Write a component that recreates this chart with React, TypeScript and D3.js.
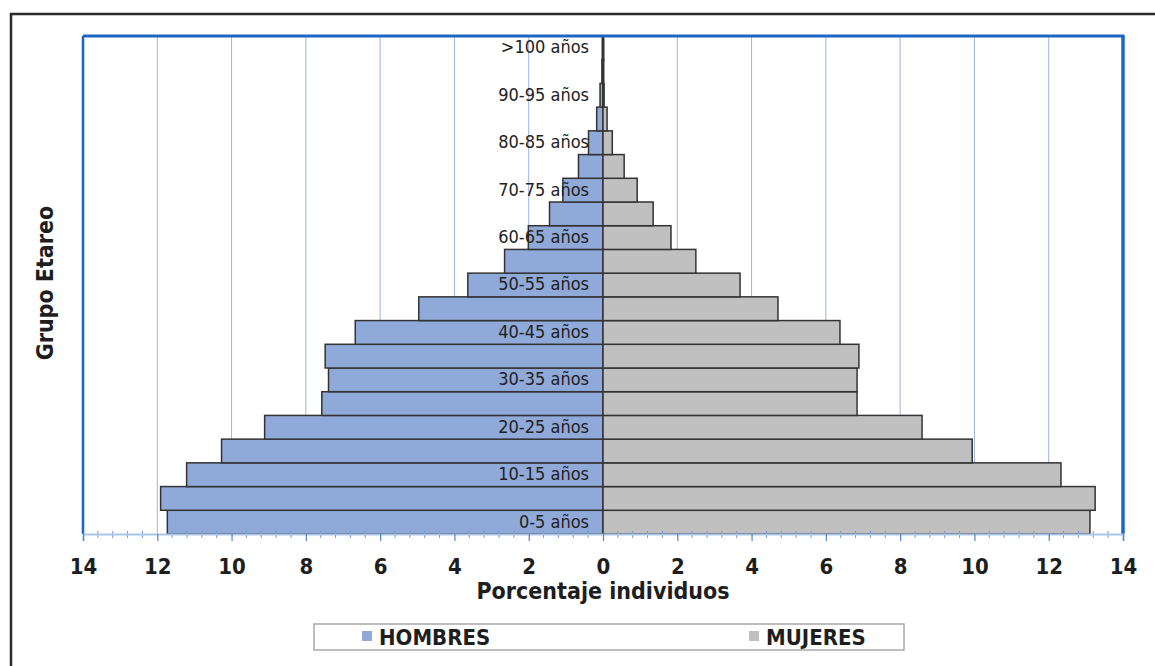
import React, { useEffect, useRef } from 'react';
import * as d3 from 'd3';

// Grupos etareos (de abajo hacia arriba)
const grupos = [
  '0-5 años', '5-10 años', '10-15 años', '15-20 años', '20-25 años', '25-30 años',
  '30-35 años', '35-40 años', '40-45 años', '45-50 años', '50-55 años', '55-60 años',
  '60-65 años', '65-70 años', '70-75 años', '75-80 años', '80-85 años', '85-90 años',
  '90-95 años', '95-100 años', '>100 años',
];

// Porcentaje de hombres por grupo
const hombres = [
  11.73, 11.91, 11.21, 10.27, 9.11, 7.57, 7.39, 7.48, 6.67, 4.96, 3.64,
  2.65, 2.01, 1.44, 1.08, 0.66, 0.39, 0.17, 0.08, 0.03, 0.02,
];

// Porcentaje de mujeres por grupo
const mujeres = [
  13.11, 13.25, 12.33, 9.94, 8.59, 6.84, 6.84, 6.89, 6.38, 4.71, 3.69,
  2.5, 1.83, 1.35, 0.92, 0.57, 0.25, 0.11, 0.03, 0.02, 0.02,
];

// Marcas del eje x
const ticksX = [-14, -12, -10, -8, -6, -4, -2, 0, 2, 4, 6, 8, 10, 12, 14];

const series = [
  { nombre: 'HOMBRES', color: '#8FA9D8' },
  { nombre: 'MUJERES', color: '#C0C0C0' },
];

const FONT = "'DejaVu Sans Condensed', 'DejaVu Sans', sans-serif";

const Piramide: React.FC = () => {
  const ref = useRef<SVGSVGElement>(null);

  useEffect(() => {
    const width = 1155;
    const height = 666;
    const left = 83;
    const right = 1123;
    const top = 36;
    const bottom = 534;

    const svg = d3.select(ref.current).attr('width', width).attr('height', height);
    svg.selectAll('*').remove();

    svg.append('rect').attr('width', width).attr('height', height).attr('fill', '#fff');

    // Marco exterior
    svg.append('rect')
      .attr('x', 11).attr('y', 14).attr('width', 1300).attr('height', 800)
      .attr('fill', 'none').attr('stroke', '#2b2b2b').attr('stroke-width', 2.5);

    const x = d3.scaleLinear().domain([-14, 14]).range([left, right]);
    const y = d3.scaleBand().domain(grupos).range([bottom, top]).paddingInner(0).paddingOuter(0);

    // Lineas de grilla
    svg.append('g')
      .selectAll('line')
      .data(ticksX.filter((t) => Math.abs(t) !== 14 && t !== 0))
      .enter()
      .append('line')
      .attr('x1', (d) => x(d)).attr('x2', (d) => x(d))
      .attr('y1', top).attr('y2', bottom)
      .attr('stroke', '#9DB4E2').attr('stroke-width', 1);

    // Barras hombres
    svg.append('g')
      .selectAll('rect')
      .data(grupos)
      .enter()
      .append('rect')
      .attr('x', (d, i) => x(-hombres[i]))
      .attr('y', (d) => y(d) || 0)
      .attr('width', (d, i) => x(0) - x(-hombres[i]))
      .attr('height', y.bandwidth())
      .attr('fill', series[0].color)
      .attr('stroke', '#333').attr('stroke-width', 1.5);

    // Barras mujeres
    svg.append('g')
      .selectAll('rect')
      .data(grupos)
      .enter()
      .append('rect')
      .attr('x', x(0))
      .attr('y', (d) => y(d) || 0)
      .attr('width', (d, i) => x(mujeres[i]) - x(0))
      .attr('height', y.bandwidth())
      .attr('fill', series[1].color)
      .attr('stroke', '#333').attr('stroke-width', 1.5);

    // Etiquetas de grupos (uno si, uno no)
    svg.append('g')
      .selectAll('text')
      .data(grupos.filter((d, i) => i % 2 === 0))
      .enter()
      .append('text')
      .attr('x', x(0) - 14)
      .attr('y', (d) => (y(d) || 0) + y.bandwidth() / 2)
      .attr('dy', '0.3em')
      .attr('text-anchor', 'end')
      .style('font-family', FONT)
      .style('font-size', '18px')
      .attr('fill', '#222')
      .text((d) => d);

    // Bordes del area de grafico
    svg.append('line').attr('x1', left).attr('x2', right + 1.5).attr('y1', top).attr('y2', top)
      .attr('stroke', '#1A66C2').attr('stroke-width', 3);
    svg.append('line').attr('x1', left).attr('x2', left).attr('y1', top).attr('y2', bottom)
      .attr('stroke', '#1A66C2').attr('stroke-width', 2.5);
    svg.append('line').attr('x1', right).attr('x2', right).attr('y1', top).attr('y2', bottom)
      .attr('stroke', '#1A66C2').attr('stroke-width', 3.5);

    // Marcas menores
    svg.append('g')
      .selectAll('line')
      .data(d3.range(-14, 14.01, 0.4).filter((v) => Math.abs(Math.round(v * 10) % 20) !== 0))
      .enter()
      .append('line')
      .attr('x1', (d) => x(d)).attr('x2', (d) => x(d))
      .attr('y1', bottom - 3).attr('y2', bottom + 4)
      .attr('stroke', '#6E9BD8').attr('stroke-width', 1);

    // Eje x
    const axis = svg.append('g')
      .attr('transform', `translate(0,${bottom})`)
      .call(
        d3.axisBottom(x)
          .tickValues(ticksX)
          .tickSize(7)
          .tickPadding(17)
          .tickFormat((d) => String(Math.abs(+d)))
      );
    axis.select('.domain').attr('stroke', '#A9C5EA').attr('stroke-width', 2);
    axis.selectAll('.tick line').attr('stroke', '#4F86CF').attr('stroke-width', 1.2);
    axis.selectAll('.tick text')
      .style('font-family', FONT)
      .style('font-size', '22px')
      .style('font-weight', 'bold')
      .attr('fill', '#1e1e1e');

    // Titulos de ejes
    svg.append('text')
      .attr('x', (left + right) / 2)
      .attr('y', 599)
      .attr('text-anchor', 'middle')
      .style('font-family', FONT)
      .style('font-size', '23px')
      .style('font-weight', 'bold')
      .attr('fill', '#1e1e1e')
      .text('Porcentaje individuos');

    svg.append('text')
      .attr('transform', 'translate(53,283) rotate(-90)')
      .attr('text-anchor', 'middle')
      .style('font-family', FONT)
      .style('font-size', '23px')
      .style('font-weight', 'bold')
      .attr('fill', '#1e1e1e')
      .text('Grupo Etareo');

    // Leyenda
    svg.append('rect')
      .attr('x', 314).attr('y', 624).attr('width', 590).attr('height', 26)
      .attr('fill', '#fff').attr('stroke', '#A8A8A8').attr('stroke-width', 1.5);

    const legendX = [362, 749];
    const leg = svg.append('g')
      .selectAll('g')
      .data(series)
      .enter()
      .append('g')
      .attr('transform', (d, i) => `translate(${legendX[i]},0)`);
    leg.append('rect')
      .attr('x', 0).attr('y', 631).attr('width', 10).attr('height', 10)
      .attr('fill', (d) => d.color);
    leg.append('text')
      .attr('x', 17).attr('y', 645)
      .style('font-family', FONT)
      .style('font-size', '22px')
      .style('font-weight', 'bold')
      .attr('fill', '#1e1e1e')
      .text((d) => d.nombre);
  }, []);

  return <svg ref={ref} style={{ position: 'absolute', left: 0, top: 0 }}></svg>;
};

export default function App() {
  return <Piramide />;
}
